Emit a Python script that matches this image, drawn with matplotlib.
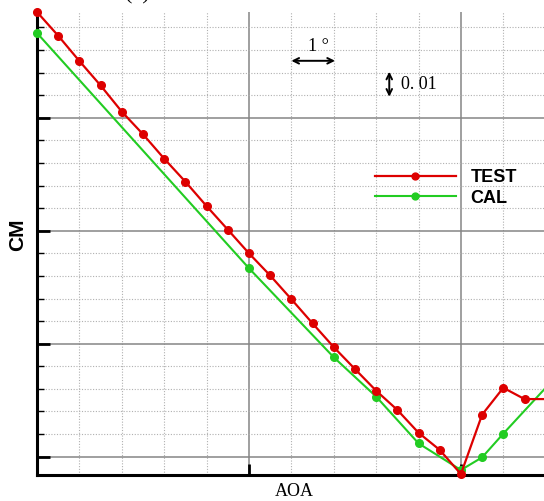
import matplotlib
matplotlib.use("Agg")
import matplotlib.pyplot as plt
from matplotlib.ticker import MultipleLocator, NullFormatter

# Angle of attack (deg, relative) and pitching-moment coefficient
aoa_test = [0.0, 0.5, 1.0, 1.5, 2.0, 2.5, 3.0, 3.5, 4.0, 4.5, 5.0, 5.5,
            6.0, 6.5, 7.0, 7.5, 8.0, 8.5, 9.0, 9.5, 10.0, 10.5, 11.0, 11.5, 12.0]
cm_test = [0.1968, 0.1863, 0.1751, 0.1643, 0.1527, 0.1427, 0.1319, 0.1217,
           0.1109, 0.1005, 0.0900, 0.0802, 0.0697, 0.0590, 0.0485, 0.0388,
           0.0292, 0.0207, 0.0106, 0.0030, -0.0077, 0.0186, 0.0305, 0.0255, 0.0255]

aoa_cal = [0.0, 5.0, 7.0, 8.0, 9.0, 10.0, 10.5, 11.0, 12.0]
cm_cal = [0.1875, 0.0834, 0.0440, 0.0266, 0.0059, -0.0059, -0.0003, 0.0102, 0.0305]

series_labels = ["TEST", "CAL"]

fig = plt.figure(figsize=(5.44, 5.01), dpi=100)
W, H = 544.0, 501.0
ax = fig.add_axes([37 / W, (H - 474.7) / H, (544 - 37) / W, (474.7 - 12) / H])

red = "#dd0000"
green = "#22cc22"

ax.plot(aoa_test, cm_test, color=red, lw=1.6, marker="o", ms=5.5,
        markevery=list(range(len(aoa_test) - 1)), clip_on=False, zorder=5,
        label=series_labels[0])
ax.plot(aoa_cal, cm_cal, color=green, lw=1.5, marker="o", ms=5.5,
        markevery=list(range(len(aoa_cal) - 1)), clip_on=False, zorder=4,
        label=series_labels[1])

ax.set_xlim(0, 11.96)
ax.set_ylim(-0.00797, 0.1968)

ax.xaxis.set_major_locator(MultipleLocator(5))
ax.xaxis.set_minor_locator(MultipleLocator(1))
ax.yaxis.set_major_locator(MultipleLocator(0.05))
ax.yaxis.set_minor_locator(MultipleLocator(0.01))
ax.xaxis.set_major_formatter(NullFormatter())
ax.yaxis.set_major_formatter(NullFormatter())

ax.grid(which="major", color="#858585", lw=1.1, ls="-", zorder=1)
ax.grid(which="minor", color="#b0b0b0", lw=0.8, ls=(0, (1, 1.5)), zorder=1)
ax.set_axisbelow(True)

for side in ("top", "right"):
    ax.spines[side].set_visible(False)
for side in ("left", "bottom"):
    ax.spines[side].set_linewidth(2.2)
    ax.spines[side].set_color("black")

ax.tick_params(axis="y", which="major", direction="in", length=9, width=2.0)
ax.tick_params(axis="y", which="minor", direction="in", length=5, width=1.0)
ax.tick_params(axis="x", which="major", direction="in", length=8, width=2.0)
ax.tick_params(axis="x", which="minor", length=0)

# Scale indicators
ax.annotate("", xy=(6.0, 0.1752), xytext=(7.03, 0.1752),
            arrowprops=dict(arrowstyle="<->", lw=1.4, color="black",
                            shrinkA=0, shrinkB=0))
ax.text(6.64, 0.1815, "1 °", ha="center", va="center",
        family="Liberation Serif", fontsize=13)
ax.annotate("", xy=(8.31, 0.1704), xytext=(8.31, 0.1593),
            arrowprops=dict(arrowstyle="<->", lw=1.4, color="black",
                            shrinkA=0, shrinkB=0))
ax.text(8.58, 0.1645, "0. 01", ha="left", va="center",
        family="Liberation Serif", fontsize=13)

leg = ax.legend(loc="center left", bbox_to_anchor=(374.7 / W, 1 - 187.9 / H),
                bbox_transform=fig.transFigure, frameon=False,
                prop=dict(family="Liberation Sans", weight="bold", size=13),
                handlelength=4.5, handletextpad=0.8, labelspacing=0.2,
                borderpad=0, borderaxespad=0, markerscale=0.9)

fig.text(17.5 / W, 1 - 235 / H, "CM", rotation=90, ha="center", va="center",
         family="Liberation Sans", weight="bold", fontsize=15)
fig.text(294 / W, 1 - 491 / H, "AOA", ha="center", va="center",
         family="Liberation Serif", fontsize=13)
fig.text(137 / W, 1 - 4 / H, "(a)", ha="center", va="bottom",
         family="Liberation Serif", fontsize=16)

fig.savefig("out.png", dpi=100)
